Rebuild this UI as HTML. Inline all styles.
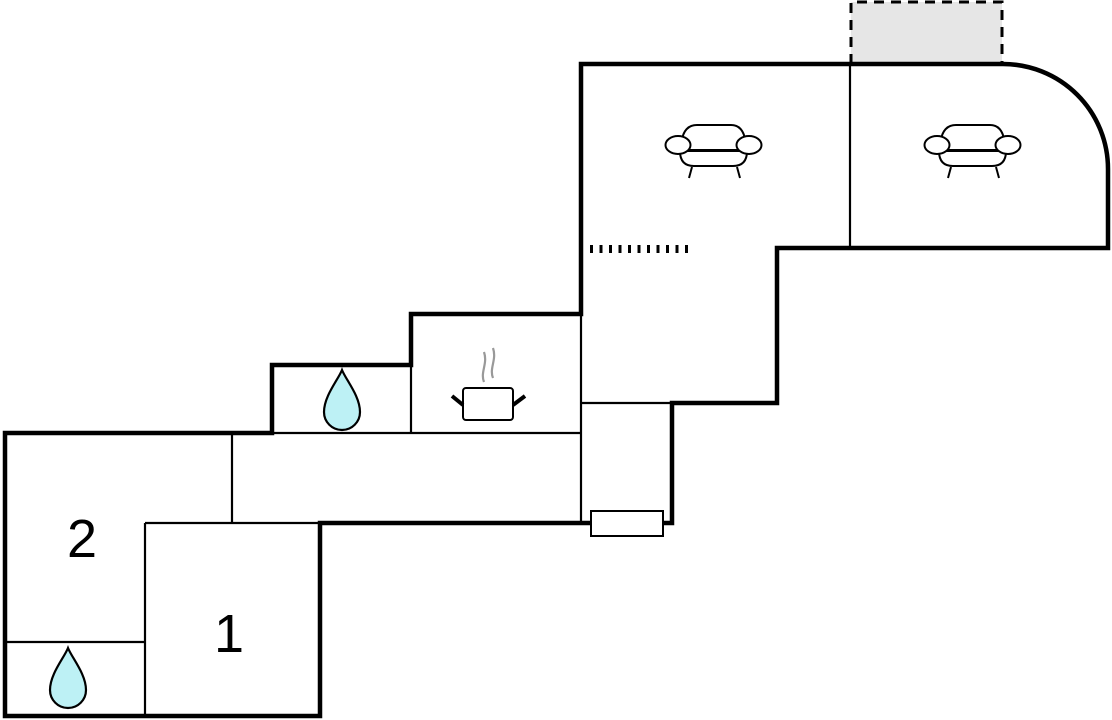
<!DOCTYPE html>
<html><head><meta charset="utf-8"><style>
html,body{margin:0;padding:0;background:#fff;}
svg{display:block;}
</style></head><body>
<svg width="1112" height="720" viewBox="0 0 1112 720" xmlns="http://www.w3.org/2000/svg">
<rect x="0" y="0" width="1112" height="720" fill="#fff"/>
<rect x="851" y="2" width="151" height="62" fill="#e6e6e6"/>
<path d="M851,64 V2 H1002 V64" fill="none" stroke="#000" stroke-width="3" stroke-dasharray="10,7"/>
<g stroke="#000" stroke-width="2.2" fill="none">
<line x1="232" y1="433" x2="232" y2="523"/>
<line x1="145" y1="523" x2="320" y2="523"/>
<line x1="145" y1="523" x2="145" y2="716"/>
<line x1="5" y1="642" x2="145" y2="642"/>
<line x1="272" y1="433" x2="581" y2="433"/>
<line x1="411" y1="365" x2="411" y2="433"/>
<line x1="581" y1="314" x2="581" y2="523"/>
<line x1="581" y1="403" x2="672" y2="403"/>
<line x1="850" y1="64" x2="850" y2="248"/>
</g>
<path d="M5,433 H272 V365 H411 V314 H581 V64 H1003 A105,105 0 0 1 1108,169 V248 H777 V403 H672 V523 H320 V716 H5 Z" fill="none" stroke="#000" stroke-width="4.5" stroke-linejoin="miter"/>
<line x1="590" y1="249" x2="694" y2="249" stroke="#000" stroke-width="8" stroke-dasharray="3,6.5"/>
<rect x="591" y="511" width="72" height="25" fill="#fff" stroke="#000" stroke-width="2"/>
<g fill="#bdf1f5" stroke="#000" stroke-width="2.2">
<path transform="translate(342,400)" d="M0,-30 C-4,-20 -18,-4 -18,12 A18,18 0 0 0 18,12 C18,-4 4,-20 0,-30 Z"/>
<path transform="translate(68,678)" d="M0,-30 C-4,-20 -18,-4 -18,12 A18,18 0 0 0 18,12 C18,-4 4,-20 0,-30 Z"/>
</g>
<g>
<path d="M484,382 C480,372 488,364 484,352 M493,378 C489,368 497,360 493,348" fill="none" stroke="#999" stroke-width="2.2"/>
<rect x="463" y="388" width="50" height="32" rx="3" fill="#fff" stroke="#000" stroke-width="2"/>
<line x1="452" y1="396" x2="463" y2="405" stroke="#000" stroke-width="4"/>
<line x1="513" y1="405" x2="525" y2="396" stroke="#000" stroke-width="4"/>
</g>
<g id="sofa" fill="#fff" stroke="#000" stroke-width="2">
<path d="M681,150 Q681,125 697,125 H731 Q746,125 746,150 Z"/>
<path d="M680,151 H747 Q747,166 733,166 H694 Q680,166 680,151 Z"/>
<ellipse cx="678" cy="145" rx="12.5" ry="9"/>
<ellipse cx="749" cy="145" rx="12.5" ry="9"/>
<line x1="692" y1="167" x2="689" y2="178"/>
<line x1="737" y1="167" x2="740" y2="178"/>
</g>
<use href="#sofa" transform="translate(259,0)"/>
<text x="82" y="557" font-family="Liberation Sans, sans-serif" font-size="54" text-anchor="middle" fill="#000">2</text>
<text x="229" y="652" font-family="Liberation Sans, sans-serif" font-size="54" text-anchor="middle" fill="#000">1</text>
</svg>
</body></html>
